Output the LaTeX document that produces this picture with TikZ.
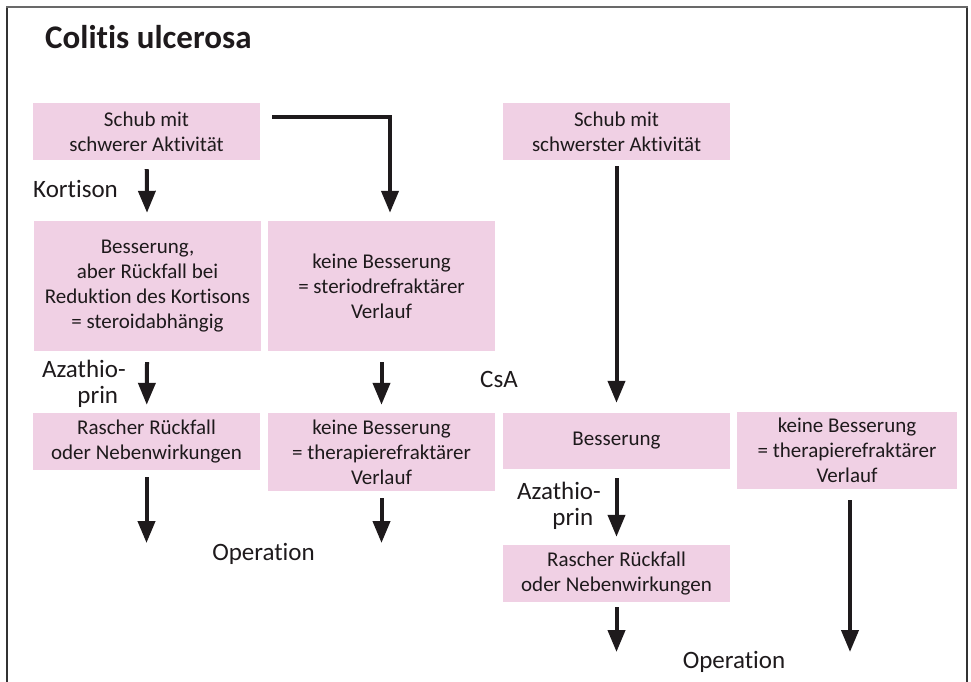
\documentclass[tikz,border=0pt]{standalone}
\usepackage{fontspec}
\setmainfont{Carlito}[Ligatures=NoCommon]
\usetikzlibrary{arrows.meta}
\definecolor{boxpink}{RGB}{240,208,228}
\definecolor{ink}{RGB}{30,26,28}
\definecolor{framegray}{RGB}{105,105,105}
\definecolor{framedark}{RGB}{50,50,50}
\tikzset{
  box/.style={fill=boxpink, inner sep=0pt, align=center, text=ink,
    font=\fontsize{21}{25}\selectfont},
  arr/.style={draw=ink, line width=4pt, -{Triangle[width=17pt,length=22pt]}},
  lbl/.style={inner sep=0pt, text=ink, font=\fontsize{25}{26}\selectfont},
}
\begin{document}
\begin{tikzpicture}[x=1pt,y=-1pt]
\useasboundingbox (0,0) rectangle (971,682);
% frame
\draw[framedark, line width=2pt] (7,682) -- (7,7);
\draw[framedark, line width=2pt] (966.5,7) -- (966.5,682);
\draw[framegray, line width=2.2pt] (6,7) -- (967.5,7);
% title
\node[anchor=base west, inner sep=0pt, text=ink, font=\fontsize{33}{33}\selectfont\bfseries] (title) at (45,49) {Colitis ulcerosa};
% boxes
\node[box, minimum width=227pt, minimum height=57pt] (A) at (146.5,131.5) {Schub mit\\schwerer Aktivität};
\node[box, minimum width=227pt, minimum height=57pt] (B) at (616.5,131.5) {Schub mit\\schwerster Aktivität};
\node[box, minimum width=227pt, minimum height=130pt] (C) at (147.5,286) {Besserung,\\aber Rückfall bei\\Reduktion des Kortisons\\= steroidabhängig};
\node[box, minimum width=227pt, minimum height=130pt] (D) at (381.5,286) {keine Besserung\\= steriodrefraktärer\\Verlauf};
\node[box, minimum width=227pt, minimum height=57pt] (E) at (146.5,441.5) {Rascher Rückfall\\oder Nebenwirkungen};
\node[box, minimum width=227pt, minimum height=78pt] (F) at (381.5,452) {keine Besserung\\= therapierefraktärer\\Verlauf};
\node[box, minimum width=227pt, minimum height=56pt] (G) at (616.5,441) {Besserung};
\node[box, minimum width=220pt, minimum height=77pt] (H) at (847,450.5) {keine Besserung\\= therapierefraktärer\\Verlauf};
\node[box, minimum width=227pt, minimum height=57pt] (I) at (616.5,573.5) {Rascher Rückfall\\oder Nebenwirkungen};
% labels
\node[lbl, anchor=base west] (kort) at (33,197) {Kortison};
\node[lbl, align=right, anchor=east] (aza1) at (126,384) {Azathio-\\prin\phantom{-}};
\node[lbl, anchor=base west] (csa) at (480,387) {CsA};
\node[lbl, align=right, anchor=east] (aza2) at (601,506) {Azathio-\\prin\phantom{-}};
\node[lbl, anchor=base] (op1) at (263.5,560) {Operation};
\node[lbl, anchor=base] (op2) at (734,668) {Operation};
% free ends
\coordinate (s2) at (272,117);
\coordinate (c2) at (390,117);
\coordinate (e1) at (146.5,543);
\coordinate (e2) at (381.5,543);
\coordinate (e3) at (616.5,652);
\coordinate (e4) at (850,652);
% connectors
\draw[arr, shorten <=9pt, shorten >=8pt] (A) -- (C);
\draw[arr] (s2) -- (c2) -- ([xshift=8.5pt,yshift=8pt]D.north);
\draw[arr, shorten <=6pt, shorten >=10pt] (B) -- (G);
\draw[arr, shorten <=11pt, shorten >=8pt] (C) -- (E);
\draw[arr, shorten <=11pt, shorten >=8pt] (D.south) -- (D.south |- E.north);
\draw[arr, shorten <=7pt] (E.south) -- (e1);
\draw[arr, shorten <=7pt] (F.south) -- (e2);
\draw[arr, shorten <=9pt, shorten >=8pt] (G) -- (I);
\draw[arr, shorten <=5pt] (I.south) -- (e3);
\draw[arr] ([xshift=3pt,yshift=-11pt]H.south) -- (e4);
\end{tikzpicture}
\end{document}
